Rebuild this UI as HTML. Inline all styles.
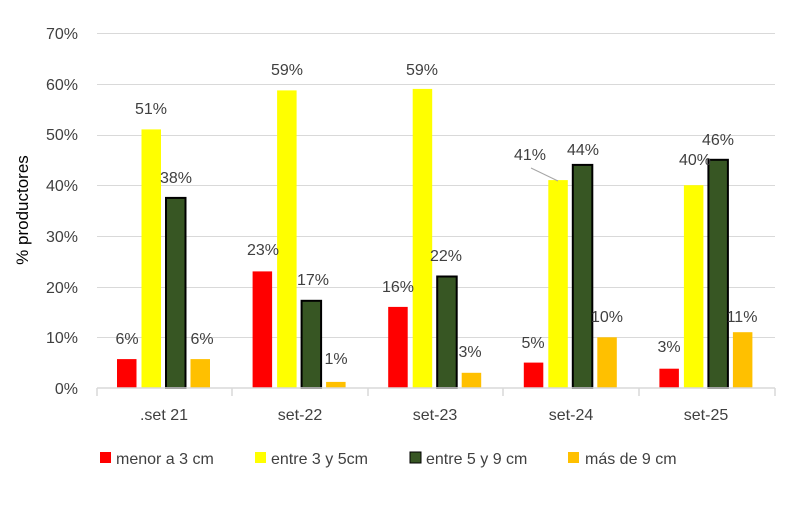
<!DOCTYPE html>
<html><head><meta charset="utf-8"><style>
body{margin:0;background:#fff}
text{font-family:"Liberation Sans",sans-serif;fill:#404040}
</style></head><body>
<svg width="811" height="514" xmlns="http://www.w3.org/2000/svg">
<g stroke="#d9d9d9" stroke-width="1">
<line x1="97" x2="775" y1="33.5" y2="33.5"/><line x1="97" x2="775" y1="84.5" y2="84.5"/>
<line x1="97" x2="775" y1="135.5" y2="135.5"/><line x1="97" x2="775" y1="185.5" y2="185.5"/>
<line x1="97" x2="775" y1="236.5" y2="236.5"/><line x1="97" x2="775" y1="287.5" y2="287.5"/>
<line x1="97" x2="775" y1="337.5" y2="337.5"/>
</g>
<g font-size="16" text-anchor="end">
<text x="78" y="394">0%</text><text x="78" y="343">10%</text><text x="78" y="293">20%</text>
<text x="78" y="242">30%</text><text x="78" y="191">40%</text><text x="78" y="140">50%</text>
<text x="78" y="90">60%</text><text x="78" y="39">70%</text>
</g>
<text transform="translate(28,210) rotate(-90)" font-size="17" text-anchor="middle" style="fill:#000">% productores</text>
<g>
<rect x="117" y="359.1" width="19.5" height="28.9" fill="#ff0000"/>
<rect x="141.5" y="129.4" width="19.5" height="258.6" fill="#ffff00"/>
<rect x="166" y="197.9" width="19.5" height="190.1" fill="#375623" stroke="#000" stroke-width="2"/>
<rect x="190.5" y="359.1" width="19.5" height="28.9" fill="#ffc000"/>
<rect x="252.6" y="271.4" width="19.5" height="116.6" fill="#ff0000"/>
<rect x="277.1" y="90.4" width="19.5" height="297.6" fill="#ffff00"/>
<rect x="301.6" y="300.8" width="19.5" height="87.2" fill="#375623" stroke="#000" stroke-width="2"/>
<rect x="326.1" y="381.9" width="19.5" height="6.1" fill="#ffc000"/>
<rect x="388.2" y="306.9" width="19.5" height="81.1" fill="#ff0000"/>
<rect x="412.7" y="88.9" width="19.5" height="299.1" fill="#ffff00"/>
<rect x="437.2" y="276.5" width="19.5" height="111.5" fill="#375623" stroke="#000" stroke-width="2"/>
<rect x="461.7" y="372.8" width="19.5" height="15.2" fill="#ffc000"/>
<rect x="523.8" y="362.6" width="19.5" height="25.4" fill="#ff0000"/>
<rect x="548.3" y="180.1" width="19.5" height="207.9" fill="#ffff00"/>
<rect x="572.8" y="164.9" width="19.5" height="223.1" fill="#375623" stroke="#000" stroke-width="2"/>
<rect x="597.3" y="337.3" width="19.5" height="50.7" fill="#ffc000"/>
<rect x="659.4" y="368.7" width="19.5" height="19.3" fill="#ff0000"/>
<rect x="683.9" y="185.2" width="19.5" height="202.8" fill="#ffff00"/>
<rect x="708.4" y="159.8" width="19.5" height="228.2" fill="#375623" stroke="#000" stroke-width="2"/>
<rect x="732.9" y="332.2" width="19.5" height="55.8" fill="#ffc000"/>
</g>
<g font-size="16" text-anchor="middle">
<text x="127" y="344">6%</text><text x="151" y="114">51%</text><text x="176" y="183">38%</text><text x="202" y="344">6%</text>
<text x="263" y="255">23%</text><text x="287" y="75">59%</text><text x="313" y="285">17%</text><text x="336" y="364">1%</text>
<text x="398" y="292">16%</text><text x="422" y="75">59%</text><text x="446" y="261">22%</text><text x="470" y="357">3%</text>
<text x="533" y="348">5%</text><text x="530" y="160">41%</text><text x="583" y="155">44%</text><text x="607" y="322">10%</text>
<text x="669" y="352">3%</text><text x="695" y="165">40%</text><text x="718" y="145">46%</text><text x="742" y="322">11%</text>
</g>
<g stroke="#d9d9d9" stroke-width="1.5">
<line x1="97" x2="775" y1="388" y2="388"/>
<line x1="97" x2="97" y1="388" y2="396"/><line x1="232" x2="232" y1="388" y2="396"/>
<line x1="368" x2="368" y1="388" y2="396"/><line x1="503" x2="503" y1="388" y2="396"/>
<line x1="639" x2="639" y1="388" y2="396"/><line x1="775" x2="775" y1="388" y2="396"/>
</g>
<g font-size="16" text-anchor="middle">
<text x="164" y="420">.set 21</text><text x="300" y="420">set-22</text><text x="435" y="420">set-23</text>
<text x="571" y="420">set-24</text><text x="706" y="420">set-25</text>
</g>
<line x1="531" y1="168" x2="558" y2="181" stroke="#a6a6a6" stroke-width="1"/>
<g font-size="16">
<rect x="100" y="452" width="11" height="11" fill="#ff0000"/><text x="116" y="464">menor a 3 cm</text>
<rect x="255" y="452" width="11" height="11" fill="#ffff00"/><text x="271" y="464">entre 3 y 5cm</text>
<rect x="410" y="452" width="11" height="11" fill="#375623" stroke="#000"/><text x="426" y="464">entre 5 y 9 cm</text>
<rect x="568" y="452" width="11" height="11" fill="#ffc000"/><text x="585" y="464">más de 9 cm</text>
</g>
</svg>
</body></html>
